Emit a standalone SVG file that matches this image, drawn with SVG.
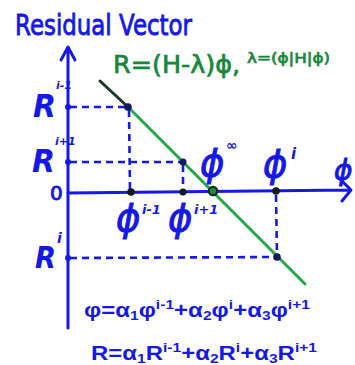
<svg xmlns="http://www.w3.org/2000/svg" width="355" height="365" viewBox="0 0 355 365">
<style>
.b{fill:#1418e8;font-family:"DejaVu Sans","Liberation Sans",sans-serif;stroke:#1418e8;stroke-width:0.9}
.hw{fill:#1418e8;font-family:"DejaVu Sans",sans-serif;font-style:oblique;font-weight:bold}
.ph{fill:#1418e8;font-family:"DejaVu Sans",sans-serif;font-style:oblique;stroke:#1418e8;stroke-width:1}
.g{fill:#17883a;font-family:"DejaVu Sans","Liberation Sans",sans-serif;stroke:#17883a;stroke-width:0.7}
.f{fill:#1418e8;font-family:"Liberation Sans",Arial,sans-serif;font-weight:bold}
.ax{stroke:#1418e8;stroke-width:3;fill:none;stroke-linecap:round;stroke-linejoin:round}
.d{stroke:#1418e8;stroke-width:2.6;fill:none;stroke-dasharray:7 5}
.pt{fill:#141a5a}
.vp{fill:#1418e8}
</style>
<rect width="355" height="365" fill="#ffffff"/>
<g id="title"><text class="b" x="15" y="35" font-size="29" textLength="177" lengthAdjust="spacingAndGlyphs">Residual Vector</text></g>
<g id="formula-R"><text class="g" x="113" y="73" font-size="24" textLength="127" lengthAdjust="spacingAndGlyphs">R=(H-λ)ϕ,</text></g>
<g id="formula-lambda"><text class="g" x="247" y="63" font-size="14" textLength="83" lengthAdjust="spacingAndGlyphs" stroke-width="0.4">λ=(ϕ|H|ϕ)</text></g>
<g id="connectors">
<path class="ax" d="M68,328 L68,48 M61,60 L68,47 L75,60"/>
<path class="ax" d="M68,193 L350,190 M342,181 L351,190 L342,201"/>
<line x1="100" y1="81" x2="128" y2="107" stroke="#173a22" stroke-width="3" stroke-linecap="round"/>
<line x1="128" y1="107" x2="305" y2="284" stroke="#22aa48" stroke-width="3" stroke-linecap="round"/>
<path class="d" d="M70,107 L128,107 M129,110 L130,190"/>
<path class="d" d="M70,162 L183,162 M183,165 L183,190"/>
<path class="d" d="M70,258 L277,257 M276,195 L277,255"/>
</g>
<g id="axis-R-im1"><circle class="vp" cx="68" cy="107" r="3"/><text class="hw" x="33" y="117" font-size="32" textLength="23" lengthAdjust="spacingAndGlyphs">R</text><text class="hw" x="56" y="89" font-size="11">i-1</text></g>
<g id="axis-R-ip1"><circle class="vp" cx="68" cy="162" r="3"/><text class="hw" x="32" y="172" font-size="32" textLength="23" lengthAdjust="spacingAndGlyphs">R</text><text class="hw" x="55" y="145" font-size="11">i+1</text></g>
<g id="axis-R-i"><circle class="vp" cx="68" cy="258" r="3"/><text class="hw" x="35" y="268" font-size="30" textLength="21" lengthAdjust="spacingAndGlyphs">R</text><text class="hw" x="57" y="243" font-size="14">i</text></g>
<g id="origin"><text class="b" x="50" y="200" font-size="20">0</text></g>
<g id="corner-im1"><circle class="pt" cx="128" cy="107" r="3.8"/></g>
<g id="corner-ip1"><circle class="pt" cx="183" cy="162" r="3.5"/></g>
<g id="corner-i"><circle class="pt" cx="277" cy="257" r="3.8"/></g>
<g id="phi-im1"><circle cx="131" cy="192" r="3.8" fill="#111a1a"/><text class="ph" x="116" y="231" font-size="37">ϕ</text><text class="hw" x="142" y="214" font-size="13">i-1</text></g>
<g id="phi-ip1"><circle cx="183" cy="192" r="3.5" fill="#111a1a"/><text class="ph" x="168" y="231" font-size="37">ϕ</text><text class="hw" x="194" y="214" font-size="13">i+1</text></g>
<g id="phi-inf"><circle cx="213" cy="191" r="4.2" fill="#2a8a40" stroke="#0e2e18" stroke-width="2.2"/><text class="ph" x="200" y="176" font-size="37">ϕ</text><text class="hw" x="226" y="150" font-size="14">∞</text></g>
<g id="phi-i"><circle cx="276" cy="191" r="3.8" fill="#111a1a"/><text class="ph" x="263" y="177" font-size="37">ϕ</text><text class="hw" x="291" y="159" font-size="15">i</text></g>
<g id="phi-axis"><text class="ph" x="334" y="180" font-size="28">ϕ</text></g>
<g id="eq-phi"><text class="f" x="84" y="317" font-size="20" textLength="226" lengthAdjust="spacingAndGlyphs">φ=α<tspan font-size="13" dy="3">1</tspan><tspan dy="-3">φ</tspan><tspan font-size="13" dy="-8">i-1</tspan><tspan dy="8">+α</tspan><tspan font-size="13" dy="3">2</tspan><tspan dy="-3">φ</tspan><tspan font-size="13" dy="-8">i</tspan><tspan dy="8">+α</tspan><tspan font-size="13" dy="3">3</tspan><tspan dy="-3">φ</tspan><tspan font-size="13" dy="-8">i+1</tspan></text></g>
<g id="eq-R"><text class="f" x="91" y="360" font-size="20" textLength="226" lengthAdjust="spacingAndGlyphs">R=α<tspan font-size="13" dy="3">1</tspan><tspan dy="-3">R</tspan><tspan font-size="13" dy="-8">i-1</tspan><tspan dy="8">+α</tspan><tspan font-size="13" dy="3">2</tspan><tspan dy="-3">R</tspan><tspan font-size="13" dy="-8">i</tspan><tspan dy="8">+α</tspan><tspan font-size="13" dy="3">3</tspan><tspan dy="-3">R</tspan><tspan font-size="13" dy="-8">i+1</tspan></text></g>
</svg>
